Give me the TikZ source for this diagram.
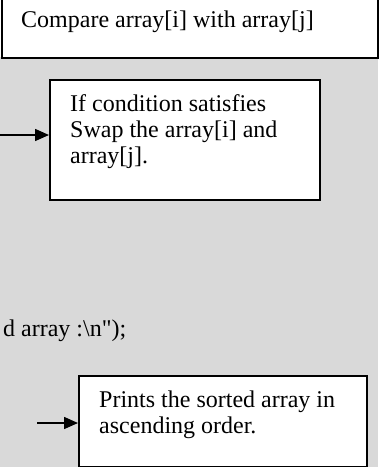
\documentclass[tikz,border=0pt]{standalone}
\usepackage{fontspec}
\setmainfont{Liberation Serif}[Ligatures=TeXOff]
\usetikzlibrary{arrows.meta}
\definecolor{bggray}{RGB}{217,217,217}
\begin{document}
\begin{tikzpicture}[x=1pt,y=-1pt,
  box/.style={draw=black, fill=white, line width=1.6pt, inner sep=0pt},
  txt/.style={font=\fontsize{24}{26}\selectfont, inner sep=0pt, align=left, anchor=base west},
  arr/.style={line width=1.5pt, -{Triangle[length=14pt,width=12pt]}}]
\useasboundingbox (0,0) rectangle (384,467);
\clip (0,0) rectangle (384,467);
\fill[bggray] (0,57) rectangle (377.5,467);
\node[box, anchor=north west, minimum width=376pt, minimum height=67pt] (b1) at (1,-10) {};
\node[txt] (t1) at (21,27) {Compare array[i] with array[j]};
\node[box, anchor=north west, minimum width=270pt, minimum height=120pt] (b2) at (49,79) {};
\node[txt, text width=245pt] (t2) at (70,111) {\spaceskip=0pt\relax If condition satisfies\\Swap the array[i] and\\array[j].};
\coordinate (a1) at (0,135);
\draw[arr] (a1) -- (a1 -| b2.west);
\node[txt] (t3) at (3,336) {d array :\textbackslash n");};
\node[box, anchor=north west, minimum width=288pt, minimum height=91pt] (b3) at (78,375) {};
\node[txt, text width=260pt] (t4) at (99,407) {\spaceskip=0pt\relax Prints the sorted array in\\ascending order.};
\coordinate (a2) at (37,423);
\draw[arr] (a2) -- (a2 -| b3.west);
\end{tikzpicture}
\end{document}
